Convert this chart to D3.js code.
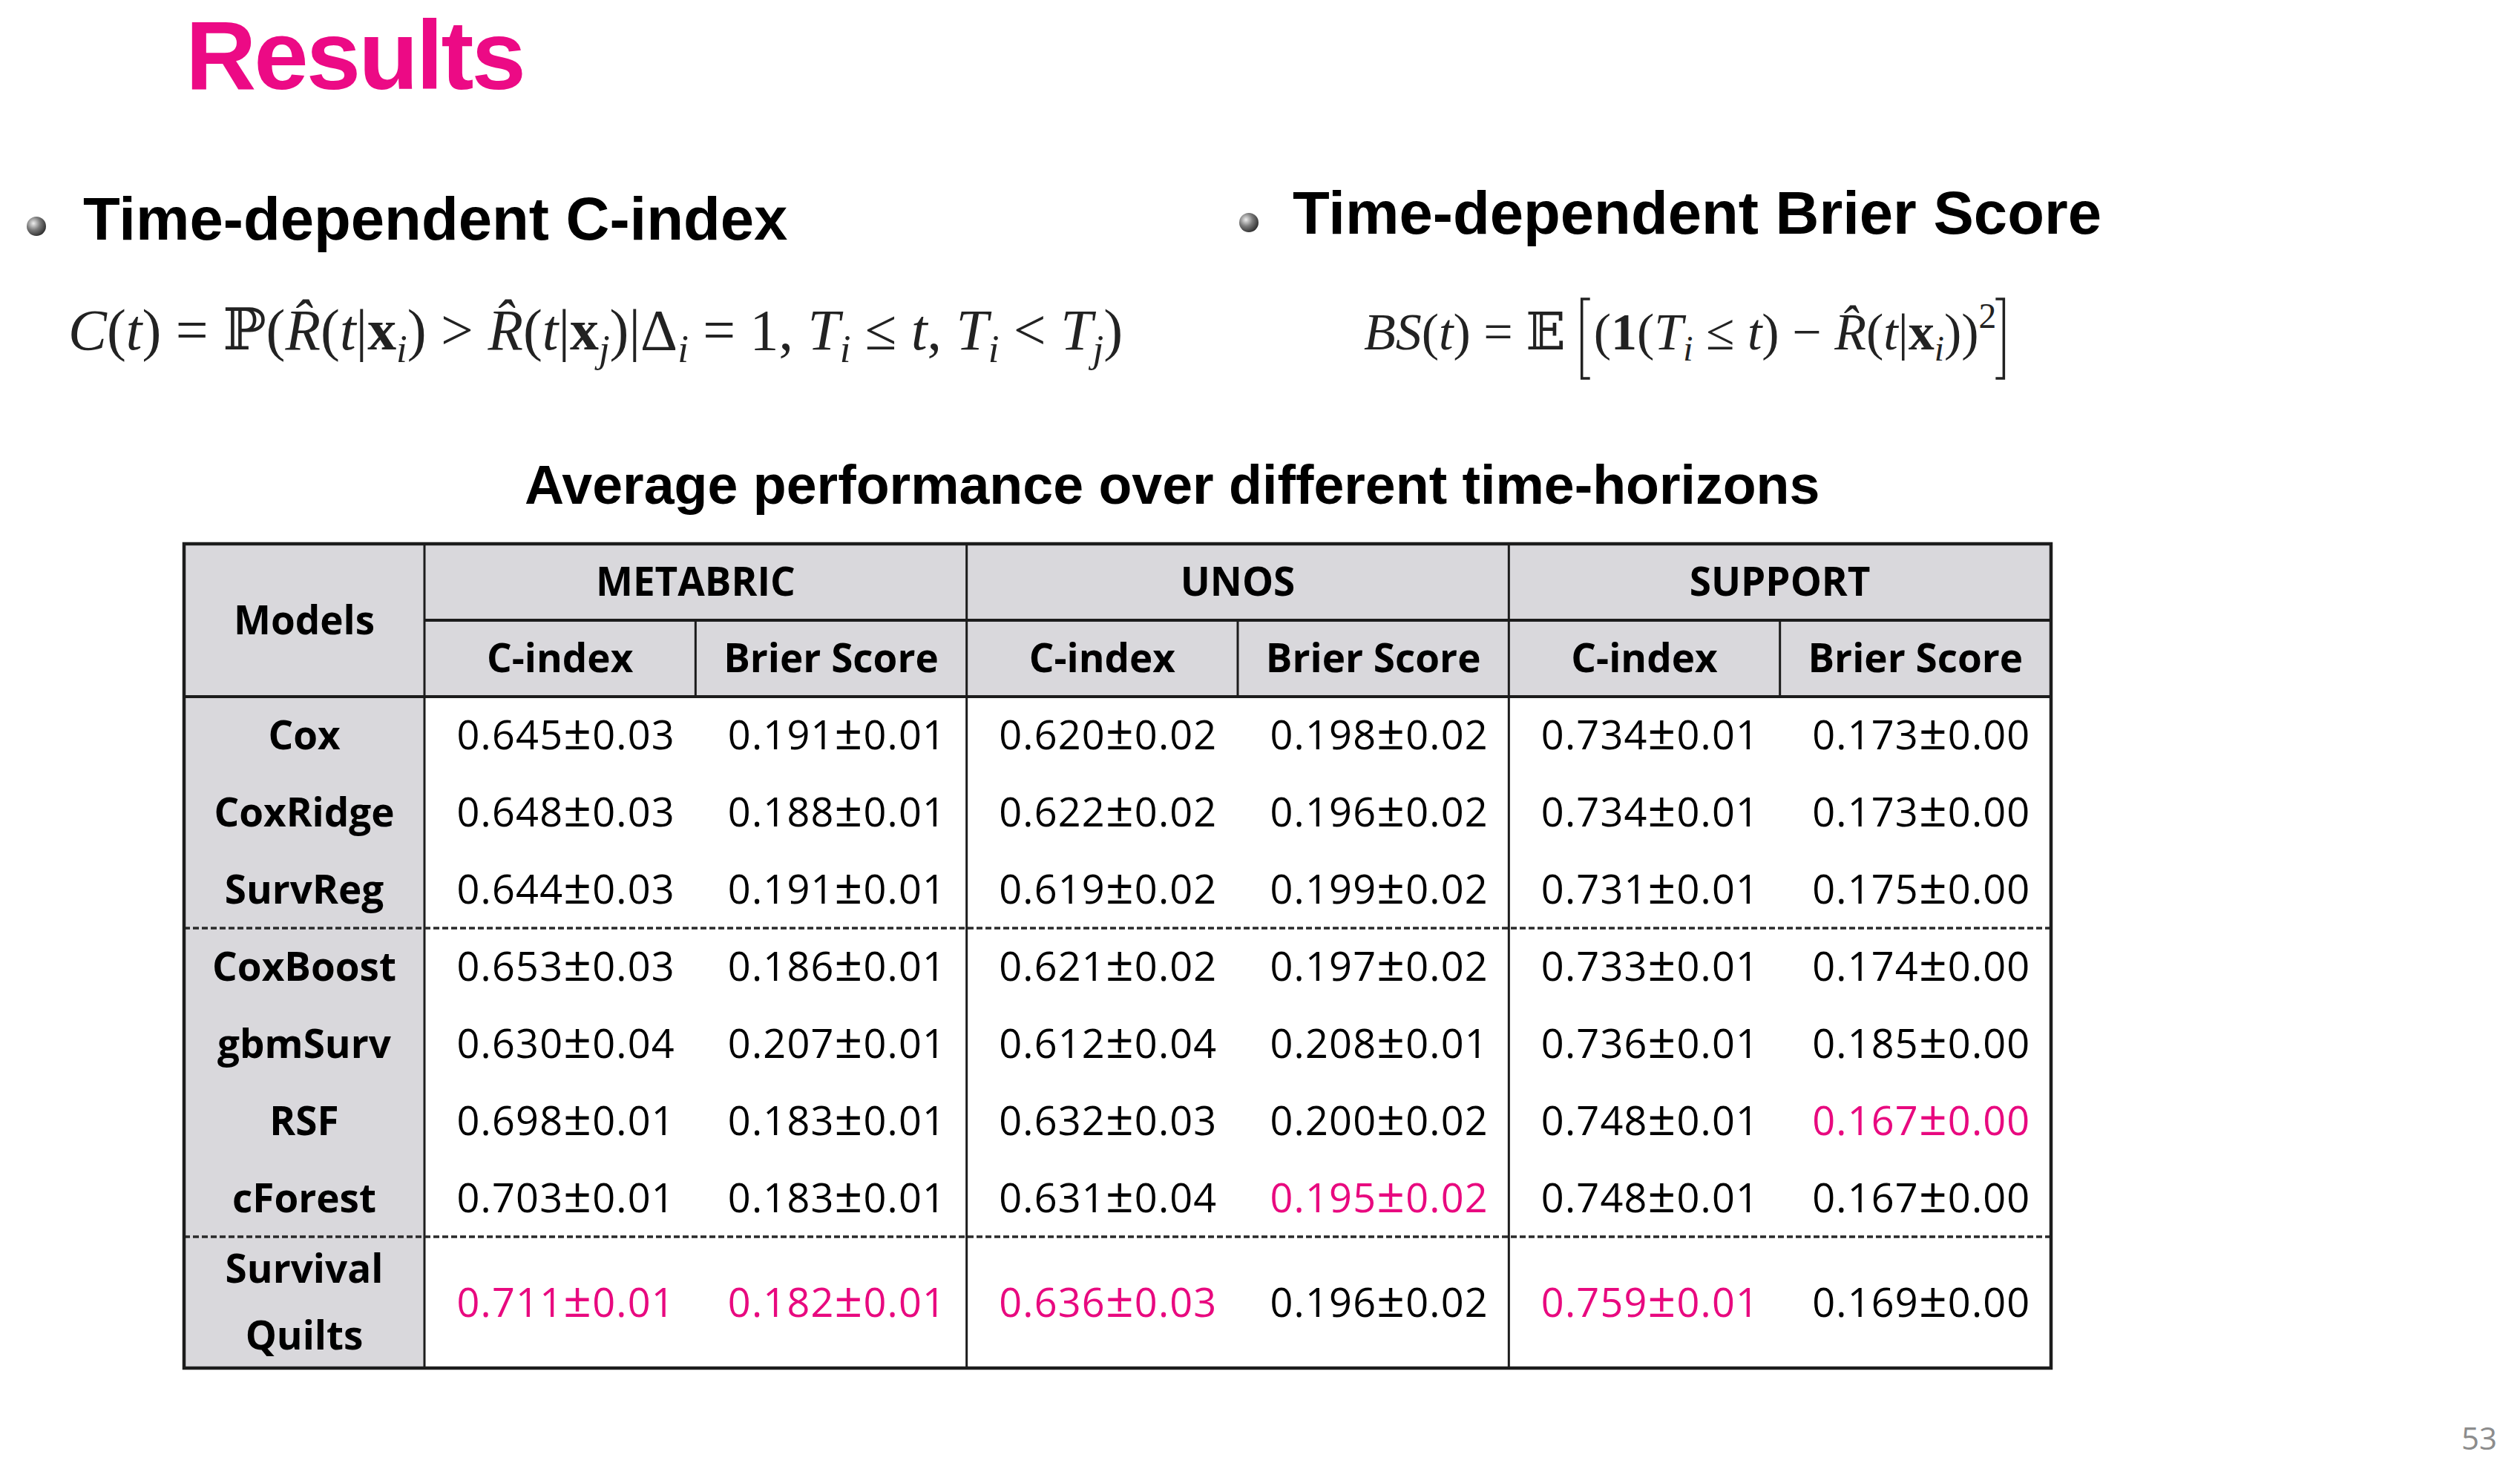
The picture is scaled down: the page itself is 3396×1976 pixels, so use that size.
<!DOCTYPE html>
<html lang="en">
<head>
  <meta charset="UTF-8">
  <title>Results</title>
  <script src="https://d3js.org/d3.v7.min.js"></script>
  <style>
    body { margin: 0; background: #ffffff; }
    svg { display: block; }
  </style>
</head>
<body>
  <div id="slide"></div>

  <script>
    // ---- data ----
    const models = ["Cox", "CoxRidge", "SurvReg", "CoxBoost", "gbmSurv", "RSF", "cForest", "Survival Quilts"];
    const datasets = ["METABRIC", "UNOS", "SUPPORT"];
    const metrics = ["C-index", "Brier Score"];

    // columns: METABRIC C, METABRIC BS, UNOS C, UNOS BS, SUPPORT C, SUPPORT BS
    const means = [
      [0.645, 0.191, 0.620, 0.198, 0.734, 0.173],
      [0.648, 0.188, 0.622, 0.196, 0.734, 0.173],
      [0.644, 0.191, 0.619, 0.199, 0.731, 0.175],
      [0.653, 0.186, 0.621, 0.197, 0.733, 0.174],
      [0.630, 0.207, 0.612, 0.208, 0.736, 0.185],
      [0.698, 0.183, 0.632, 0.200, 0.748, 0.167],
      [0.703, 0.183, 0.631, 0.195, 0.748, 0.167],
      [0.711, 0.182, 0.636, 0.196, 0.759, 0.169]
    ];
    const stds = [
      [0.03, 0.01, 0.02, 0.02, 0.01, 0.00],
      [0.03, 0.01, 0.02, 0.02, 0.01, 0.00],
      [0.03, 0.01, 0.02, 0.02, 0.01, 0.00],
      [0.03, 0.01, 0.02, 0.02, 0.01, 0.00],
      [0.04, 0.01, 0.04, 0.01, 0.01, 0.00],
      [0.01, 0.01, 0.03, 0.02, 0.01, 0.00],
      [0.01, 0.01, 0.04, 0.02, 0.01, 0.00],
      [0.01, 0.01, 0.03, 0.02, 0.01, 0.00]
    ];
    // best result per column, shown in pink: [row, col]
    const best = [[5, 5], [6, 3], [7, 0], [7, 1], [7, 2], [7, 4]];
    // dashed separators after these model rows
    const groupEnds = [2, 6];

    const W = 3396, H = 1976;
    const pink = "#EC0A85";
    const lineCol = "#1c1c1c";
    const headFill = "#D9D8DC";
    const tableFont = "'Open Sans', sans-serif";
    const fs = 53;

    const svg = d3.select("#slide").append("svg")
      .attr("width", W).attr("height", H);

    const defs = svg.append("defs");
    const grad = defs.append("radialGradient").attr("id", "ball")
      .attr("cx", "35%").attr("cy", "35%").attr("r", "70%");
    grad.append("stop").attr("offset", "0%").attr("stop-color", "#eeeeee");
    grad.append("stop").attr("offset", "50%").attr("stop-color", "#7a7a7a");
    grad.append("stop").attr("offset", "100%").attr("stop-color", "#2e2e2e");

    // ---- slide title + bullets ----
    svg.append("text")
      .attr("x", 250).attr("y", 120)
      .attr("font-family", "'Liberation Sans', Arial, sans-serif")
      .attr("font-weight", "bold").attr("font-size", 132)
      .attr("letter-spacing", -3)
      .attr("fill", pink).text("Results");

    const bullets = [
      { x: 49, y: 305, tx: 112, ty: 323, label: "Time-dependent C-index" },
      { x: 1683, y: 300, tx: 1742, ty: 315, label: "Time-dependent Brier Score" }
    ];
    bullets.forEach(b => {
      svg.append("circle").attr("cx", b.x).attr("cy", b.y).attr("r", 13)
        .attr("fill", "url(#ball)");
      svg.append("text").attr("x", b.tx).attr("y", b.ty)
        .attr("font-family", "'Liberation Sans', Arial, sans-serif")
        .attr("font-weight", "bold").attr("font-size", 81.5)
        .attr("fill", "#000").text(b.label);
    });

    // ---- formulas ----
    // kinds: i italic, r roman, b bold, bb double-struck, sub subscript, sup superscript
    function mathText(x, y, size, parts) {
      const t = svg.append("text").attr("x", x).attr("y", y)
        .attr("font-family", "'Liberation Serif', 'DejaVu Serif', serif")
        .attr("font-size", size).attr("fill", "#222");
      let shift = 0;
      parts.forEach(([s, k]) => {
        const sp = t.append("tspan").text(s).attr("xml:space", "preserve");
        let want = 0;
        if (k === "sub") want = 0.22 * size;
        if (k === "sup") want = -0.42 * size;
        if (want !== shift) { sp.attr("dy", want - shift); shift = want; }
        if (k === "i" || k === "sub") sp.attr("font-style", "italic");
        if (k === "b") sp.attr("font-weight", "bold");
        if (k === "sub" || k === "sup") sp.attr("font-size", size * 0.68);
        if (k === "bb") sp.attr("font-family", "'DejaVu Serif', 'DejaVu Sans', serif");
      });
      return t;
    }

    const hatR = "R\u0302";
    const cIndexParts = [
      ["C", "i"], ["(", "r"], ["t", "i"], [")", "r"], [" = ", "r"], ["\u2119", "bb"], ["(", "r"],
      [hatR, "i"], ["(", "r"], ["t", "i"], ["|", "r"], ["x", "b"], ["i", "sub"], [")", "r"],
      [" > ", "r"], [hatR, "i"], ["(", "r"], ["t", "i"], ["|", "r"], ["x", "b"], ["j", "sub"], [")", "r"],
      ["|", "r"], ["\u0394", "r"], ["i", "sub"], [" = 1, ", "r"], ["T", "i"], ["i", "sub"],
      [" \u2264 ", "r"], ["t", "i"], [", ", "r"], ["T", "i"], ["i", "sub"], [" < ", "r"],
      ["T", "i"], ["j", "sub"], [")", "r"]
    ];
    const f1 = mathText(92, 471, 64, cIndexParts);
    const f1size = 64 * 1421 / f1.node().getComputedTextLength();
    f1.remove();
    mathText(92, 471, f1size, cIndexParts);

    const bsSize = 70;
    const bsLeft = mathText(1838, 471, bsSize, [
      ["B", "i"], ["S", "i"], ["(", "r"], ["t", "i"], [")", "r"], [" = ", "r"], ["\uD835\uDD3C", "bb"]
    ]);
    const brL = 1838 + bsLeft.node().getComputedTextLength() + 22;
    const bsInner = mathText(brL + 16, 471, bsSize, [
      ["(", "r"], ["1", "b"], ["(", "r"], ["T", "i"], ["i", "sub"], [" \u2264 ", "r"], ["t", "i"], [")", "r"],
      [" \u2212 ", "r"], [hatR, "i"], ["(", "r"], ["t", "i"], ["|", "r"], ["x", "b"], ["i", "sub"],
      [")", "r"], [")", "r"], ["2", "sup"]
    ]);
    const brR = brL + 16 + bsInner.node().getComputedTextLength() + 10;
    [[brL, 1], [brR, -1]].forEach(([bx, dir]) => {
      svg.append("path")
        .attr("d", `M${bx + dir * 11},403 H${bx} V510 H${bx + dir * 11}`)
        .attr("fill", "none").attr("stroke", "#222").attr("stroke-width", 3.5);
    });

    // ---- table ----
    svg.append("text")
      .attr("x", 707).attr("y", 679)
      .attr("font-family", "'Liberation Sans', Arial, sans-serif")
      .attr("font-weight", "bold").attr("font-size", 73.5)
      .attr("fill", "#000").text("Average performance over different time-horizons");

    const tabL = 248, tabR = 2764, tabT = 733, tabB = 1844;
    const modelRight = 572;
    const head1 = 836, head2 = 939, lastTop = 1667;

    const cols = d3.range(datasets.length * metrics.length);
    const x = d3.scaleBand().domain(cols).range([modelRight, tabR]);
    const xSet = d3.scaleBand().domain(datasets).range([modelRight, tabR]);
    const y = d3.scaleBand().domain(d3.range(models.length - 1)).range([head2, lastTop]);
    const rowTop = r => r < models.length - 1 ? y(r) : lastTop;
    const rowH = r => r < models.length - 1 ? y.bandwidth() : tabB - lastTop;

    // backgrounds
    svg.append("rect").attr("x", tabL).attr("y", tabT)
      .attr("width", tabR - tabL).attr("height", head2 - tabT).attr("fill", headFill);
    svg.append("rect").attr("x", tabL).attr("y", head2)
      .attr("width", modelRight - tabL).attr("height", tabB - head2).attr("fill", headFill);

    const cellText = (cx, cy, size = fs) => svg.append("text")
      .attr("x", cx).attr("y", cy + size * 0.357)
      .attr("text-anchor", "middle")
      .attr("font-family", tableFont).attr("font-size", size);

    // header texts
    cellText((tabL + modelRight) / 2, (tabT + head2) / 2)
      .attr("font-weight", "bold").text("Models");
    datasets.forEach(d => {
      cellText(xSet(d) + xSet.bandwidth() / 2, (tabT + head1) / 2)
        .attr("font-weight", "bold").text(d);
    });
    cols.forEach(c => {
      cellText(x(c) + x.bandwidth() / 2, (head1 + head2) / 2)
        .attr("font-weight", "bold").text(metrics[c % metrics.length]);
    });

    // model names
    models.forEach((m, r) => {
      const cy = rowTop(r) + rowH(r) / 2;
      const words = r === models.length - 1 ? m.split(" ") : [m];
      words.forEach((w, k) => {
        const off = (k - (words.length - 1) / 2) * 90;
        cellText((tabL + modelRight) / 2, cy + off)
          .attr("font-weight", "bold").attr("fill", "#000").text(w);
      });
    });

    // values (mean ± std), ± drawn a bit larger as on the slide
    const isBest = (r, c) => best.some(([br, bc]) => br === r && bc === c);
    means.forEach((row, r) => {
      row.forEach((v, c) => {
        const t = cellText(x(c) + x.bandwidth() / 2 + 8, rowTop(r) + rowH(r) / 2, 54)
          .attr("letter-spacing", 1.2)
          .attr("fill", isBest(r, c) ? "#E8097F" : "#000");
        t.append("tspan").text(v.toFixed(3));
        t.append("tspan").attr("font-size", 66).text("\u00B1");
        t.append("tspan").text(stds[r][c].toFixed(2));
      });
    });

    // grid lines
    const seg = (x1, y1, x2, y2, w) => svg.append("line")
      .attr("x1", x1).attr("y1", y1).attr("x2", x2).attr("y2", y2)
      .attr("stroke", lineCol).attr("stroke-width", w);

    seg(modelRight, head1, tabR, head1, 4);
    seg(tabL, head2, tabR, head2, 4);
    seg(modelRight, tabT, modelRight, tabB, 3);
    datasets.slice(1).forEach(d => seg(xSet(d), tabT, xSet(d), tabB, 3));
    datasets.forEach(d => {
      const mid = xSet(d) + xSet.bandwidth() / 2;
      seg(mid, head1, mid, head2, 3);
    });
    groupEnds.forEach(r => {
      const yy = rowTop(r) + rowH(r);
      seg(tabL, yy, tabR, yy, 3.5).attr("stroke", "#2a2a2a").attr("stroke-dasharray", "8,4");
    });

    svg.append("rect").attr("x", tabL).attr("y", tabT)
      .attr("width", tabR - tabL).attr("height", tabB - tabT)
      .attr("fill", "none").attr("stroke", lineCol).attr("stroke-width", 4.5);

    // slide number
    svg.append("text").attr("x", 3365).attr("y", 1954)
      .attr("text-anchor", "end")
      .attr("font-family", tableFont).attr("font-size", 42)
      .attr("fill", "#8c8c8c").text("53");
  </script>
</body>
</html>
